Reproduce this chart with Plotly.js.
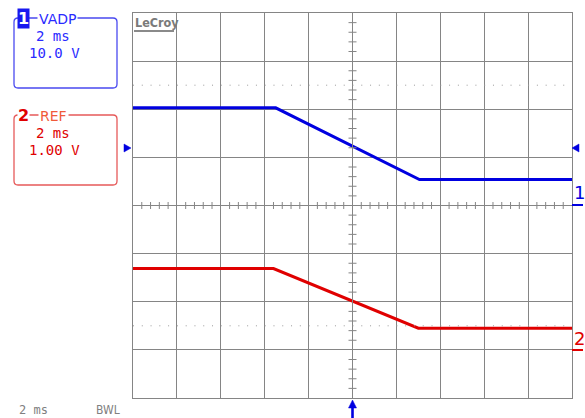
<!DOCTYPE html>
<html>
<head>
<meta charset="utf-8">
<script src="https://cdn.plot.ly/plotly-3.0.1.min.js"></script>
<style>html,body{margin:0;padding:0;background:#fff;}#chart{width:585px;height:418px;}</style>
</head>
<body>
<div id="chart"></div>
<script>
// ---- data (time in ms, values in volts) ----
var ch1Time = [-10, -3.5, 3.05, 10];
var ch1Volts = [8.3, 8.3, -6.6, -6.6];
var ch2Time = [-10, -3.6, 3.0, 10];
var ch2Volts = [-1.31, -1.31, -2.55, -2.55];
var ch1Label = {name: 'VADP', timebase: '2 ms', scale: '10.0 V'};
var ch2Label = {name: 'REF', timebase: '2 ms', scale: '1.00 V'};
var footerTexts = ['2 ms', 'BWL'];

// ---- geometry helpers ----
var W = 585, H = 418, L = 133, R = 13, T = 13, B = 20;
var PW = W - L - R, PH = H - T - B;
function xp(px) { return (px - L) / PW; }
function yp(py) { return (H - B - py) / PH; }

var GRID = '#858585';
var BLUE = '#0000e0', BLUE_T = '#2a2aff', RED = '#e00000';

var shapes = [];
// center cross minor ticks (in division units)
for (var i = -50; i <= 50; i++) {
  var xv = i * 0.4; // 0.2 div in ms
  if (i % 5 === 0) continue;
  shapes.push({type: 'line', xref: 'x', yref: 'paper', x0: xv, x1: xv,
    y0: yp(205.5 - 3.5), y1: yp(205.5 + 3.5), line: {color: GRID, width: 1}});
}
for (var j = -20; j <= 20; j++) {
  if (j % 5 === 0) continue;
  var yv = j * 0.2;
  shapes.push({type: 'line', xref: 'paper', yref: 'y', x0: xp(352.5 - 4), x1: xp(352.5 + 4),
    y0: yv, y1: yv, line: {color: GRID, width: 1}});
}
// center lines
shapes.push({type: 'line', xref: 'paper', yref: 'y', x0: 0, x1: 1, y0: 0, y1: 0, line: {color: GRID, width: 1}});
shapes.push({type: 'line', xref: 'x', yref: 'paper', x0: 0, x1: 0, y0: 0, y1: 1, line: {color: GRID, width: 1}});
// dotted lines at +-2.5 div
[2.5, -2.5].forEach(function (d) {
  shapes.push({type: 'line', xref: 'paper', yref: 'y', x0: 0, x1: 1, y0: d, y1: d,
    line: {color: '#9a9a9a', width: 1, dash: '1px,7.78px'}});
});

function roundRect(x0, y0, x1, y1, r, color) {
  var X0 = xp(x0), X1 = xp(x1), Y0 = yp(y0), Y1 = yp(y1);
  var rx = r / PW, ry = r / PH;
  var p = 'M' + (X0 + rx) + ',' + Y0 + ' L' + (X1 - rx) + ',' + Y0 +
    ' Q' + X1 + ',' + Y0 + ' ' + X1 + ',' + (Y0 - ry) +
    ' L' + X1 + ',' + (Y1 + ry) + ' Q' + X1 + ',' + Y1 + ' ' + (X1 - rx) + ',' + Y1 +
    ' L' + (X0 + rx) + ',' + Y1 + ' Q' + X0 + ',' + Y1 + ' ' + X0 + ',' + (Y1 + ry) +
    ' L' + X0 + ',' + (Y0 - ry) + ' Q' + X0 + ',' + Y0 + ' ' + (X0 + rx) + ',' + Y0 + ' Z';
  return {type: 'path', xref: 'paper', yref: 'paper', path: p, line: {color: color, width: 1.3}};
}
shapes.push(roundRect(14, 18, 117, 88, 4, '#4a4af0'));
shapes.push(roundRect(14, 115, 117, 185, 4, '#e65a5a'));

function tri(points, color) {
  var s = 'M' + points.map(function (p) { return xp(p[0]) + ',' + yp(p[1]); }).join(' L') + ' Z';
  return {type: 'path', xref: 'paper', yref: 'paper', path: s, fillcolor: color, line: {color: color, width: 0.5}};
}
// ground markers for channel 1
shapes.push(tri([[124, 144], [124, 152], [131, 148]], BLUE));
shapes.push(tri([[579, 144], [579, 152], [572, 148]], BLUE));
// trigger arrow
shapes.push(tri([[348.5, 408], [356.5, 408], [352.5, 400]], BLUE));
shapes.push({type: 'rect', xref: 'paper', yref: 'paper', x0: xp(351.2), x1: xp(353.8), y0: yp(407), y1: yp(418),
  fillcolor: BLUE, line: {width: 0}});
// channel label underlines
shapes.push({type: 'line', xref: 'paper', yref: 'paper', x0: xp(572), x1: xp(583), y0: yp(205), y1: yp(205), line: {color: BLUE, width: 2}});
shapes.push({type: 'line', xref: 'paper', yref: 'paper', x0: xp(572), x1: xp(583), y0: yp(350), y1: yp(350), line: {color: RED, width: 2}});
// LeCroy underline
shapes.push({type: 'line', xref: 'paper', yref: 'paper', x0: xp(134), x1: xp(174), y0: yp(31), y1: yp(31), line: {color: '#8a8a8a', width: 2}});

function ann(text, px, py, opts) {
  var a = {text: text, xref: 'paper', yref: 'paper', x: xp(px), y: yp(py), showarrow: false,
    xanchor: 'left', yanchor: 'middle', font: {family: 'DejaVu Sans Mono', size: 14, color: BLUE_T}};
  for (var k in opts) a[k] = opts[k];
  return a;
}
var annotations = [
  ann('1', 17, 18.5, {bgcolor: '#1818f0', borderpad: 0, font: {family: 'DejaVu Sans', size: 16, color: '#fff', weight: 'bold'}}),
  ann(ch1Label.name, 37, 19, {bgcolor: '#fff', borderpad: 1, font: {family: 'DejaVu Sans', size: 14, color: BLUE_T}}),
  ann(ch1Label.timebase, 34, 36),
  ann(ch1Label.scale, 27, 53),
  ann('2', 17, 116, {bgcolor: '#fff', borderpad: 0, font: {family: 'DejaVu Sans', size: 16, color: RED, weight: 'bold'}}),
  ann(ch2Label.name, 38, 116, {bgcolor: '#fff', borderpad: 1, font: {family: 'DejaVu Sans', size: 14, color: '#f05a3a'}}),
  ann(ch2Label.timebase, 34, 133, {font: {family: 'DejaVu Sans Mono', size: 14, color: RED}}),
  ann(ch2Label.scale, 27, 150, {font: {family: 'DejaVu Sans Mono', size: 14, color: RED}}),
  ann(footerTexts[0], 17, 410, {font: {family: 'DejaVu Sans Mono', size: 12, color: '#808080'}}),
  ann(footerTexts[1], 94, 410, {font: {family: 'DejaVu Sans Condensed', size: 12, color: '#808080'}}),
  ann('LeCroy', 132.5, 22, {font: {family: 'DejaVu Sans Condensed', size: 12.5, color: '#7a7a7a', weight: 'bold'}}),
  ann('1', 572, 192, {font: {family: 'DejaVu Sans', size: 18, color: BLUE}}),
  ann('2', 572, 338, {font: {family: 'DejaVu Sans', size: 18, color: RED}})
];

var traces = [
  {x: ch1Time, y: ch1Volts, yaxis: 'y2', mode: 'lines', line: {color: BLUE, width: 3}, hoverinfo: 'skip'},
  {x: ch2Time, y: ch2Volts, yaxis: 'y3', mode: 'lines', line: {color: RED, width: 3}, hoverinfo: 'skip'}
];

var layout = {
  width: W, height: H,
  margin: {l: L, r: R, t: T, b: B, pad: 0},
  paper_bgcolor: '#fff', plot_bgcolor: '#fff',
  showlegend: false,
  xaxis: {range: [-10, 10], dtick: 2, showgrid: true, gridcolor: GRID, gridwidth: 1, zeroline: false,
    showticklabels: false, ticks: '', showline: true, linecolor: GRID, linewidth: 1, mirror: true, fixedrange: true},
  yaxis: {range: [-4, 4], dtick: 1, showgrid: true, gridcolor: GRID, gridwidth: 1, zeroline: false,
    showticklabels: false, ticks: '', showline: true, linecolor: GRID, linewidth: 1, mirror: true, fixedrange: true},
  yaxis2: {overlaying: 'y', range: [-52, 28], visible: false, fixedrange: true},
  yaxis3: {overlaying: 'y', range: [-4, 4], visible: false, fixedrange: true},
  shapes: shapes,
  annotations: annotations
};
Plotly.newPlot('chart', traces, layout, {staticPlot: true, displayModeBar: false});
</script>
</body>
</html>
